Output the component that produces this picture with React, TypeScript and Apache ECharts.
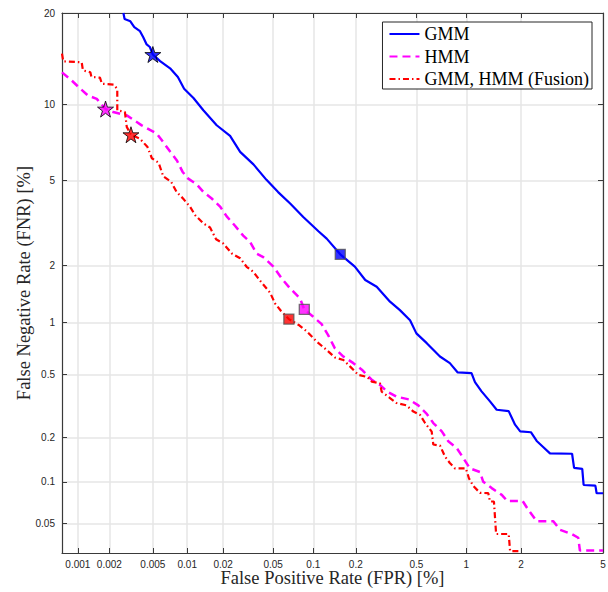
import React, { useEffect, useRef } from "react";
import * as echarts from "echarts";

// ---- data (percent values) ----
const xTicks = ["0.001", "0.002", "0.005", "0.01", "0.02", "0.05", "0.1", "0.2", "0.5", "1", "2", "5"];
const yTicks = ["0.05", "0.1", "0.2", "0.5", "1", "2", "5", "10", "20"];
const xRange = [0.0007, 5];
const yRange = [0.03, 20];

const seriesNames = ["GMM", "HMM", "GMM, HMM (Fusion)"];
const seriesColors = ["#0000ff", "#ff00ff", "#ff0000"];

const gmmCurve = [
  [0.0027, 20], [0.00277, 19.2], [0.00313, 18.9], [0.0034, 18.15], [0.00383, 17.65], [0.0041, 16.9],
  [0.0044, 16.05], [0.0047, 15.75], [0.005, 14.9], [0.0058, 14.18], [0.0071, 13.42], [0.0083, 12.53],
  [0.0094, 11.42], [0.0113, 10.58], [0.0137, 9.54], [0.0177, 8.38], [0.0228, 7.62], [0.0275, 6.58],
  [0.0351, 5.85], [0.0444, 5.03], [0.0546, 4.45], [0.0674, 3.96], [0.0844, 3.44], [0.109, 2.95],
  [0.125, 2.72], [0.156, 2.28], [0.197, 1.98], [0.232, 1.69], [0.277, 1.56], [0.339, 1.3],
  [0.393, 1.17], [0.456, 1.03], [0.5, 0.87], [0.58, 0.765], [0.698, 0.64], [0.8, 0.585],
  [0.89, 0.515], [1.07, 0.51], [1.12, 0.45], [1.22, 0.395], [1.36, 0.342], [1.48, 0.303],
  [1.72, 0.297], [1.86, 0.243], [1.98, 0.22], [2.25, 0.217], [2.41, 0.19], [2.59, 0.174],
  [2.81, 0.157], [3.6, 0.156], [3.68, 0.125], [4.02, 0.123], [4.08, 0.095], [4.62, 0.094],
  [4.68, 0.083], [5, 0.083],
];

const hmmCurve = [
  [0.0007, 13.0], [0.00087, 12.2], [0.00105, 11.44], [0.00125, 10.8], [0.00152, 10.5], [0.00184, 9.64],
  [0.00217, 9.4], [0.0029, 9.13], [0.00358, 8.62], [0.00397, 8.37], [0.00541, 7.78], [0.00618, 7.2],
  [0.00713, 6.59], [0.00817, 6.05], [0.0091, 5.45], [0.0102, 5.09], [0.012, 4.82], [0.0137, 4.457],
  [0.0161, 4.17], [0.019, 3.82], [0.0214, 3.46], [0.025, 3.13], [0.0291, 2.81], [0.033, 2.62],
  [0.0372, 2.3], [0.0419, 2.21], [0.0502, 1.98], [0.0582, 1.72], [0.0673, 1.53], [0.0798, 1.355],
  [0.0859, 1.18], [0.1, 1.076], [0.115, 0.98], [0.128, 0.85], [0.143, 0.714], [0.164, 0.64],
  [0.1925, 0.585], [0.22, 0.535], [0.257, 0.464], [0.291, 0.433], [0.324, 0.394], [0.374, 0.366],
  [0.449, 0.352], [0.514, 0.323], [0.58, 0.285], [0.636, 0.249], [0.716, 0.22], [0.783, 0.189],
  [0.877, 0.171], [0.959, 0.146], [1.048, 0.124], [1.195, 0.117], [1.247, 0.1], [1.39, 0.0903],
  [1.578, 0.0809], [1.69, 0.073], [2.04, 0.073], [2.18, 0.0632], [2.41, 0.052], [2.92, 0.052],
  [3.15, 0.045], [3.6, 0.0416], [3.85, 0.0392], [3.92, 0.0313], [5, 0.0313],
];

const fusionCurve = [
  [0.0007, 15.0], [0.00072, 14.15], [0.00109, 14.05], [0.00112, 13.21], [0.00132, 13.01], [0.00135, 12.55],
  [0.00163, 12.47], [0.0017, 11.88], [0.00219, 11.8], [0.00237, 11.4], [0.00237, 9.54], [0.00279, 9.4],
  [0.0029, 8.26], [0.00317, 7.7], [0.00383, 7.43], [0.00448, 6.88], [0.0049, 6.2], [0.00563, 5.94],
  [0.00618, 5.21], [0.00724, 4.94], [0.0081, 4.457], [0.0092, 4.17], [0.0106, 3.82], [0.0117, 3.5],
  [0.0137, 3.21], [0.0156, 3.07], [0.0175, 2.7], [0.02, 2.58], [0.0236, 2.3], [0.0275, 2.18],
  [0.031, 1.976], [0.0351, 1.86], [0.0395, 1.68], [0.0474, 1.45], [0.0518, 1.27], [0.0575, 1.157],
  [0.0659, 1.045], [0.078, 0.97], [0.09, 0.89], [0.106, 0.78], [0.126, 0.695], [0.143, 0.632],
  [0.164, 0.611], [0.183, 0.558], [0.208, 0.498], [0.239, 0.484], [0.257, 0.453], [0.291, 0.443],
  [0.299, 0.393], [0.339, 0.359], [0.374, 0.334], [0.433, 0.323], [0.479, 0.295], [0.527, 0.281],
  [0.566, 0.249], [0.622, 0.219], [0.636, 0.18], [0.699, 0.177], [0.749, 0.149], [0.8, 0.135],
  [0.858, 0.124], [0.993, 0.124], [1.034, 0.106], [1.095, 0.0936], [1.195, 0.0836], [1.33, 0.0832],
  [1.36, 0.0725], [1.43, 0.0725], [1.47, 0.0418], [1.72, 0.0418], [1.75, 0.031], [1.97, 0.031],
];

const starPoints = [[0.005, 14.9], [0.00184, 9.64], [0.00317, 7.7]];
const squarePoints = [[0.156, 2.28], [0.0859, 1.18], [0.0659, 1.045]];

// ---- normal deviate (probit) scale ----
function probit(p: number): number {
  const a = [-3.969683028665376e1, 2.209460984245205e2, -2.759285104469687e2, 1.38357751867269e2, -3.066479806614716e1, 2.506628277459239];
  const b = [-5.447609879822406e1, 1.615858368580409e2, -1.556989798598866e2, 6.680131188771972e1, -1.328068155288572e1];
  const c = [-7.784894002430293e-3, -3.223964580411365e-1, -2.400758277161838, -2.549732539343734, 4.374664141464968, 2.938163982698783];
  const d = [7.784695709041462e-3, 3.224671290700398e-1, 2.445134137142996, 3.754408661907416];
  const plow = 0.02425;
  if (p < plow) {
    const q = Math.sqrt(-2 * Math.log(p));
    return (((((c[0] * q + c[1]) * q + c[2]) * q + c[3]) * q + c[4]) * q + c[5]) / ((((d[0] * q + d[1]) * q + d[2]) * q + d[3]) * q + 1);
  }
  if (p <= 1 - plow) {
    const q = p - 0.5;
    const r = q * q;
    return ((((((a[0] * r + a[1]) * r + a[2]) * r + a[3]) * r + a[4]) * r + a[5]) * q) / (((((b[0] * r + b[1]) * r + b[2]) * r + b[3]) * r + b[4]) * r + 1);
  }
  const q = Math.sqrt(-2 * Math.log(1 - p));
  return -(((((c[0] * q + c[1]) * q + c[2]) * q + c[3]) * q + c[4]) * q + c[5]) / ((((d[0] * q + d[1]) * q + d[2]) * q + d[3]) * q + 1);
}
const pz = (pct: number) => probit(pct / 100);
const toXY = (pts: number[][]) => pts.map(([x, y]) => [pz(x), pz(y)]);

const STAR = "path://M50,2 L61.2,36.2 L97.6,36.2 L68.2,57.6 L79.4,92 L50,70.8 L20.6,92 L31.8,57.6 L2.4,36.2 L38.8,36.2 Z";

export default function App() {
  const ref = useRef<HTMLDivElement>(null);
  useEffect(() => {
    if (!ref.current) return;
    const chart = echarts.init(ref.current, undefined, { renderer: "svg" });
    const xVals = xTicks.map((t) => pz(parseFloat(t)));
    const yVals = yTicks.map((t) => pz(parseFloat(t)));
    const fmt = (ticks: string[], vals: number[]) => (v: number) => {
      let best = 0;
      for (let i = 1; i < vals.length; i++) if (Math.abs(vals[i] - v) < Math.abs(vals[best] - v)) best = i;
      return ticks[best];
    };
    const axisColor = "#3a3a3a";
    const labelStyle = { color: "#262626", fontSize: 10, fontFamily: "Liberation Sans, Arial, sans-serif" };
    const nameStyle = { color: "#262626", fontSize: 18.5, fontFamily: "Liberation Serif, Times New Roman, serif" };
    const curves = [gmmCurve, hmmCurve, fusionCurve];
    const dash: any[] = ["solid", [8, 5], [6, 3, 1.5, 3]];
    const widths = [2.2, 2.5, 2.2];

    const lineSeries = curves.map((c, i) => ({
      name: seriesNames[i],
      type: "line",
      data: toXY(c),
      symbol: "none",
      showSymbol: false,
      xAxisIndex: 0,
      yAxisIndex: 0,
      lineStyle: { color: seriesColors[i], width: widths[i], type: dash[i] },
      itemStyle: { color: seriesColors[i] },
      z: 3,
    }));
    const starSeries = {
      type: "scatter",
      name: "stars",
      data: starPoints.map((p, i) => ({ value: [pz(p[0]), pz(p[1])], itemStyle: { color: seriesColors[i] } })),
      symbol: STAR,
      symbolSize: 16,
      itemStyle: { borderColor: "#000", borderWidth: 1 },
      z: 5,
    };
    const squareSeries = {
      type: "scatter",
      name: "squares",
      data: squarePoints.map((p, i) => ({ value: [pz(p[0]), pz(p[1])], itemStyle: { color: seriesColors[i] } })),
      symbol: "rect",
      symbolSize: 10,
      itemStyle: { borderColor: "#555", borderWidth: 1.3 },
      z: 5,
    };

    const xMin = pz(xRange[0]);
    const xMax = pz(xRange[1]);
    const yMin = pz(yRange[0]);
    const yMax = pz(yRange[1]);

    chart.setOption({
      animation: false,
      backgroundColor: "#ffffff",
      grid: { left: 62, right: 5, top: 13, bottom: 39, containLabel: false, outerBoundsMode: "none" },
      legend: {
        data: seriesNames,
        orient: "vertical",
        right: 16,
        top: 22,
        itemWidth: 30,
        itemHeight: 14,
        itemGap: 4.5,
        padding: [3, 3, 1, 6],
        backgroundColor: "#ffffff",
        borderColor: "#262626",
        borderWidth: 1,
        borderRadius: 0,
        itemStyle: { opacity: 0 },
        textStyle: { color: "#000", fontSize: 18, lineHeight: 18, fontFamily: "Liberation Serif, Times New Roman, serif" },
      },
      xAxis: [
        {
          type: "value",
          position: "bottom",
          min: xMin,
          max: xMax,
          name: "False Positive Rate (FPR) [%]",
          nameLocation: "middle",
          nameGap: 15.5,
          nameMoveOverlap: false,
          nameTextStyle: nameStyle,
          axisLine: { show: true, lineStyle: { color: axisColor, width: 1.2 } },
          axisTick: { show: true, inside: true, length: 5, customValues: xVals, lineStyle: { color: axisColor } },
          axisLabel: { show: true, customValues: xVals, formatter: fmt(xTicks, xVals), margin: 6, ...labelStyle },
          splitLine: { show: true, lineStyle: { color: "#e6e6e6", width: 1.5 } },
        },
        {
          type: "value",
          position: "top",
          min: xMin,
          max: xMax,
          axisLine: { show: true, lineStyle: { color: axisColor, width: 1.2 } },
          axisTick: { show: true, inside: true, length: 5, customValues: xVals, lineStyle: { color: axisColor } },
          axisLabel: { show: false },
          splitLine: { show: false },
        },
      ],
      yAxis: [
        {
          type: "value",
          position: "left",
          min: yMin,
          max: yMax,
          name: "False Negative Rate (FNR) [%]",
          nameLocation: "middle",
          nameGap: 29,
          nameMoveOverlap: false,
          nameTextStyle: nameStyle,
          axisLine: { show: true, lineStyle: { color: axisColor, width: 1.2 } },
          axisTick: { show: true, inside: true, length: 5, customValues: yVals, lineStyle: { color: axisColor } },
          axisLabel: { show: true, customValues: yVals, formatter: fmt(yTicks, yVals), margin: 7, ...labelStyle },
          splitLine: { show: true, lineStyle: { color: "#e6e6e6", width: 1.5 } },
        },
        {
          type: "value",
          position: "right",
          min: yMin,
          max: yMax,
          axisLine: { show: true, lineStyle: { color: axisColor, width: 1.2 } },
          axisTick: { show: true, inside: true, length: 5, customValues: yVals, lineStyle: { color: axisColor } },
          axisLabel: { show: false },
          splitLine: { show: false },
        },
      ],
      series: [...lineSeries, starSeries, squareSeries],
    });
    return () => chart.dispose();
  }, []);
  return <div ref={ref} style={{ position: "absolute", left: 0, top: 0, width: 608, height: 592 }} />;
}
